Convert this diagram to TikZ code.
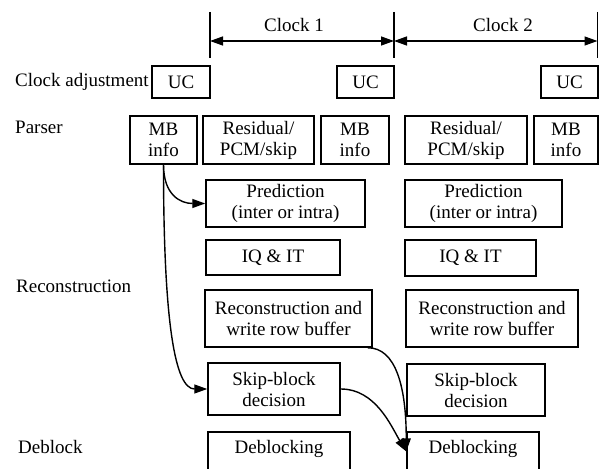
\documentclass[tikz,border=0pt]{standalone}
\usepackage{fontspec}
\setmainfont{Liberation Serif}
\usetikzlibrary{arrows.meta}
\newcommand\figfont{\fontsize{19}{21}\selectfont}
\begin{document}
\begin{tikzpicture}[x=1pt,y=-1pt,
  font=\figfont,
  box/.style={draw, line width=1.5pt, inner sep=0pt, align=center},
  lbl/.style={inner sep=0pt, anchor=base west},
  tick/.style={line width=1.5pt},
  arr/.style={line width=1.4pt, -{Triangle[length=13pt,width=9pt]}},
  dbl/.style={line width=1.4pt, {Triangle[length=13pt,width=9pt]}-{Triangle[length=13pt,width=9pt]}}]
\clip (0,0) rectangle (599,468);

% clock period markers
\coordinate (t0a) at (210,12);  \coordinate (t0b) at (210,58);
\coordinate (t1a) at (394,12);  \coordinate (t1b) at (394,58);
\coordinate (t2a) at (597.5,12); \coordinate (t2b) at (597.5,58);
\draw[tick] (t0a) -- (t0b);
\draw[tick] (t1a) -- (t1b);
\draw[tick] (t2a) -- (t2b);
\coordinate (k0) at (210,41);
\coordinate (k1) at (394,41);
\coordinate (k2) at (597.5,41);
\draw[dbl] (k0) -- (k1);
\draw[dbl] (k1) -- (k2);
\node[inner sep=0pt, anchor=base] (clk1) at (294,32) {Clock 1};
\node[inner sep=0pt, anchor=base] (clk2) at (503,32) {Clock 2};

% row labels
\node[lbl] (lca)  at (15,87)  {Clock adjustment};
\node[lbl] (lpar) at (15,133) {Parser};
\node[lbl] (lrec) at (16,292) {Reconstruction};
\node[lbl] (ldeb) at (18,453) {Deblock};

% clock adjustment
\node[box, minimum width=58, minimum height=32] (uc1) at (181,82) {UC};
\node[box, minimum width=57, minimum height=32] (uc2) at (365.5,82) {UC};
\node[box, minimum width=57, minimum height=32] (uc3) at (569.5,82) {UC};

% parser
\node[box, minimum width=67, minimum height=48]  (mb1)  at (163.5,140) {MB\\info};
\node[box, minimum width=111, minimum height=48] (res1) at (258.5,140) {Residual/\\PCM/skip};
\node[box, minimum width=68, minimum height=48]  (mb2)  at (355,140) {MB\\info};
\node[box, minimum width=122, minimum height=48] (res2) at (466,140) {Residual/\\PCM/skip};
\node[box, minimum width=64, minimum height=48]  (mb3)  at (566,140) {MB\\info};

% reconstruction
\node[box, minimum width=159, minimum height=47] (pred1) at (285.5,203.5) {Prediction\\(inter or intra)};
\node[box, minimum width=157, minimum height=47] (pred2) at (483.5,203.5) {Prediction\\(inter or intra)};
\node[box, minimum width=134, minimum height=35] (iq1) at (273,257.5) {IQ \& IT};
\node[box, minimum width=131, minimum height=36] (iq2) at (470.5,258) {IQ \& IT};
\node[box, minimum width=167, minimum height=57] (rec1) at (288.5,318.5) {Reconstruction and\\write row buffer};
\node[box, minimum width=172, minimum height=57] (rec2) at (492,318.5) {Reconstruction and\\write row buffer};
\node[box, minimum width=132, minimum height=52] (skip1) at (274,389) {Skip-block\\decision};
\node[box, minimum width=138, minimum height=52] (skip2) at (476,390) {Skip-block\\decision};

% deblocking (boxes run past the lower edge)
\node[box, anchor=north, minimum width=142, text height=13pt, text depth=40pt, inner ysep=9pt] (deb1) at (279,431) {Deblocking};
\node[box, anchor=north, minimum width=132, text height=13pt, text depth=40pt, inner ysep=9pt] (deb2) at (473,431) {Deblocking};

% data dependencies
\draw[arr] (mb1.south) .. controls +(0,30) and +(-25,0) .. (pred1.west);
\draw[arr] (mb1.south) .. controls +(0,160) and +(-32,0) .. (skip1.west);
\draw[arr] ([xshift=-5pt]rec1.south east) .. controls +(28,0) and +(0,-65) .. (deb2.mid west);
\draw[arr] (skip1.east) .. controls +(35,0) and +(-15,-25) .. (deb2.mid west);
\end{tikzpicture}
\end{document}
